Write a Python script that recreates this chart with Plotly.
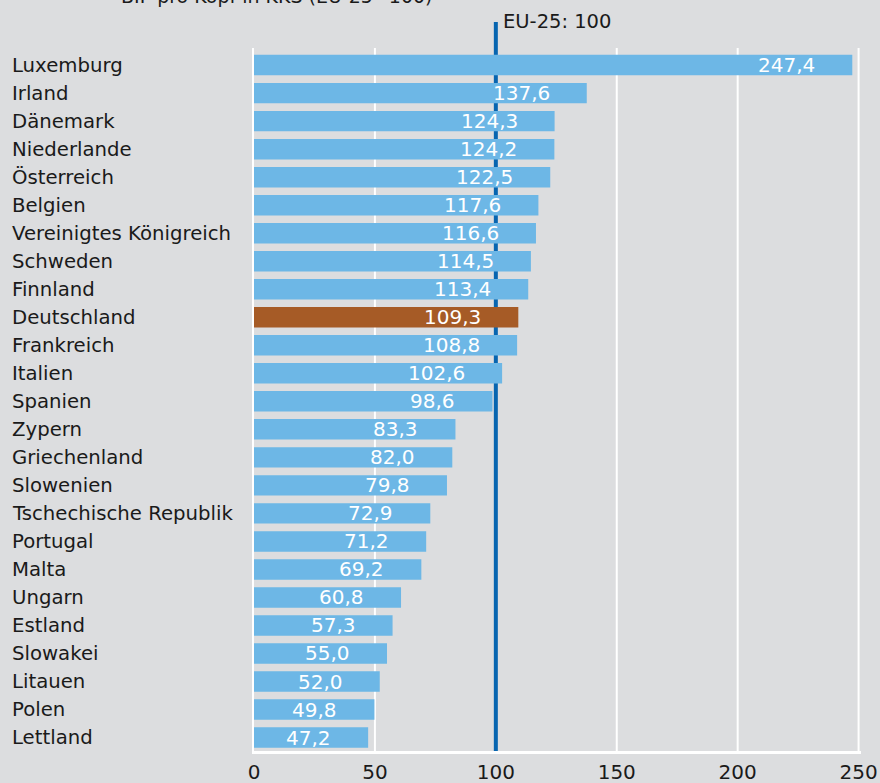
import plotly.graph_objects as go

countries = ["Luxemburg", "Irland", "Dänemark", "Niederlande", "Österreich", "Belgien",
             "Vereinigtes Königreich", "Schweden", "Finnland", "Deutschland", "Frankreich",
             "Italien", "Spanien", "Zypern", "Griechenland", "Slowenien",
             "Tschechische Republik", "Portugal", "Malta", "Ungarn", "Estland", "Slowakei",
             "Litauen", "Polen", "Lettland"]
values = [247.4, 137.6, 124.3, 124.2, 122.5, 117.6, 116.6, 114.5, 113.4, 109.3, 108.8,
          102.6, 98.6, 83.3, 82.0, 79.8, 72.9, 71.2, 69.2, 60.8, 57.3, 55.0, 52.0, 49.8, 47.2]
highlight = "Deutschland"
eu_value = 100
x_ticks = [0, 50, 100, 150, 200, 250]
title_text = "BIP pro Kopf in KKS (EU-25=100)"
eu_label = "EU-25: 100"

BG = "#dcdddf"
BLUE = "#6db7e6"
ORANGE = "#a65b26"
LINE = "#0765b0"
TXT = "#1a1a1a"
FONT = "DejaVu Sans"

W, H = 880, 783
ML, MR, MT, MB = 254, 19, 48, 32
PW = W - ML - MR
PH = H - MT - MB

colors = [ORANGE if c == highlight else BLUE for c in countries]

fig = go.Figure()
fig.add_trace(go.Bar(
    x=values, y=countries, orientation="h",
    marker=dict(color=colors, line=dict(width=0)),
    width=0.73, hoverinfo="x+y",
))

def fmt(v):
    return f"{v:.1f}".replace(".", ",")

annotations = []
for c, v in zip(countries, values):
    annotations.append(dict(
        x=v, y=c, xref="x", yref="y", text=fmt(v), showarrow=False,
        xanchor="right", yanchor="middle", xshift=-35,
        font=dict(family=FONT, size=20, color="white"),
    ))
    annotations.append(dict(
        x=(10 - ML) / PW, y=c, xref="paper", yref="y", text=c, showarrow=False,
        xanchor="left", yanchor="middle",
        font=dict(family=FONT, size=19.7, color=TXT),
    ))

annotations.append(dict(
    x=eu_value, y=1 + (MT - 21) / PH, xref="x", yref="paper", text=eu_label,
    showarrow=False, xanchor="left", yanchor="middle", xshift=5,
    font=dict(family=FONT, size=19.5, color=TXT),
))
annotations.append(dict(
    x=(119 - ML) / PW, y=1 + (MT + 4) / PH, xref="paper", yref="paper", text=title_text,
    showarrow=False, xanchor="left", yanchor="middle",
    font=dict(family=FONT, size=19, color=TXT),
))

shapes = []
for t in x_ticks[1:]:
    shapes.append(dict(type="line", xref="x", yref="paper", x0=t, x1=t, y0=0, y1=1,
                       line=dict(color="white", width=2), layer="below"))
shapes.append(dict(type="line", xref="x", yref="paper", x0=eu_value, x1=eu_value, y0=0, y1=1,
                   line=dict(color=LINE, width=4), layer="below"))
shapes.append(dict(type="line", xref="x", yref="paper", x0=eu_value, x1=eu_value, y0=1,
                   y1=1 + (MT - 22) / PH, line=dict(color=LINE, width=4), layer="above"))

fig.update_layout(
    width=W, height=H, autosize=False,
    margin=dict(l=ML, r=MR, t=MT, b=MB, pad=0, autoexpand=False),
    paper_bgcolor=BG, plot_bgcolor=BG,
    showlegend=False,
    bargap=0.27,
    annotations=annotations,
    shapes=shapes,
    xaxis=dict(
        range=[0, 251], tickvals=x_ticks, ticktext=[str(t) for t in x_ticks],
        showgrid=False, automargin=False,
        zeroline=False, showline=True, linecolor="white", linewidth=3,
        ticks="outside", ticklen=1, tickcolor="rgba(0,0,0,0)",
        tickfont=dict(family=FONT, size=20, color=TXT),
        fixedrange=True,
    ),
    yaxis=dict(
        type="category", categoryorder="array", categoryarray=countries[::-1],
        range=[-0.48, 24.61], showticklabels=False, showgrid=False, automargin=False,
        zeroline=False, showline=True, linecolor="white", linewidth=2,
        ticks="", fixedrange=True,
    ),
)

fig.write_html(
    "out.html",
    config={"displayModeBar": False},
    post_script="document.body.style.margin='0';document.body.style.overflow='hidden';",
)
